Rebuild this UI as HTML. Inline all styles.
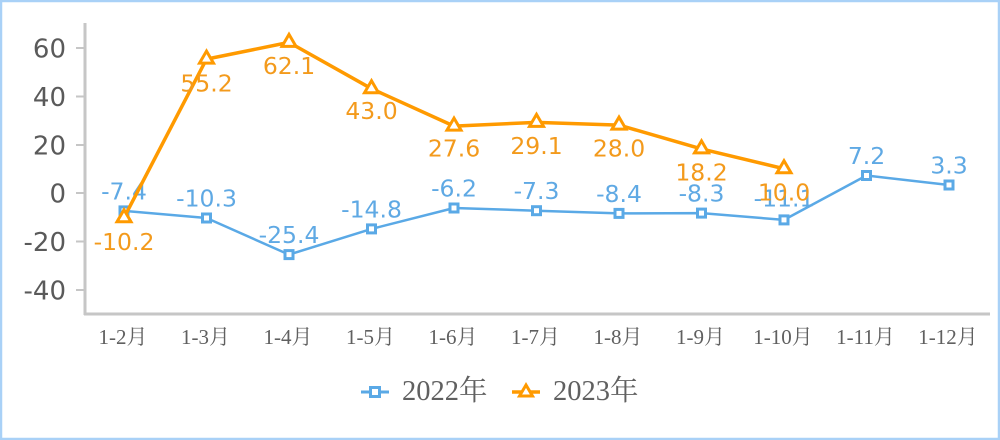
<!DOCTYPE html>
<html><head><meta charset="utf-8"><style>
html,body{margin:0;padding:0;background:#fff;}
svg{display:block;}
</style></head><body>
<svg width="1000" height="440" viewBox="0 0 1000 440" xmlns="http://www.w3.org/2000/svg">
<rect x="1" y="1" width="998" height="438" fill="#fff" stroke="#a9d1f7" stroke-width="2.5"/>
<!-- axes -->
<g stroke="#c6c6c6" stroke-width="3" fill="none">
<line x1="85" y1="23" x2="85" y2="315"/>
<line x1="84" y1="314" x2="990" y2="314"/>
<line x1="76" y1="48" x2="85" y2="48" stroke-width="2"/>
<line x1="76" y1="96.5" x2="85" y2="96.5" stroke-width="2"/>
<line x1="76" y1="145" x2="85" y2="145" stroke-width="2"/>
<line x1="76" y1="193" x2="85" y2="193" stroke-width="2"/>
<line x1="76" y1="241.5" x2="85" y2="241.5" stroke-width="2"/>
<line x1="76" y1="290" x2="85" y2="290" stroke-width="2"/>
</g>
<g font-family="DejaVu Sans, Verdana, sans-serif" font-size="26" fill="#5a5a5a" text-anchor="end">
<text x="66" y="57.5">60</text>
<text x="66" y="106">40</text>
<text x="66" y="154.5">20</text>
<text x="66" y="202.5">0</text>
<text x="66" y="251">-20</text>
<text x="66" y="299.5">-40</text>
</g>
<g font-family="Liberation Serif, Noto Serif CJK SC, serif" font-size="21" fill="#606060" text-anchor="middle">
<text x="123" y="344">1-2月</text>
<text x="205.5" y="344">1-3月</text>
<text x="288" y="344">1-4月</text>
<text x="370.5" y="344">1-5月</text>
<text x="453" y="344">1-6月</text>
<text x="535.5" y="344">1-7月</text>
<text x="618" y="344">1-8月</text>
<text x="700.5" y="344">1-9月</text>
<text x="783" y="344">1-10月</text>
<text x="865.5" y="344">1-11月</text>
<text x="948" y="344">1-12月</text>
</g>
<!-- 2022 series -->
<polyline fill="none" stroke="#5aa9e6" stroke-width="2.5" stroke-linejoin="round" points="124,210.9 206.5,218 289,254.6 371.5,228.9 454,208 536.5,210.7 619,213.4 701.5,213.1 784,219.9 866.5,175.5 949,185"/>
<g fill="#fff" stroke="#5aa9e6" stroke-width="3">
<rect x="120" y="206.9" width="8" height="8"/>
<rect x="202.5" y="214" width="8" height="8"/>
<rect x="285" y="250.6" width="8" height="8"/>
<rect x="367.5" y="224.9" width="8" height="8"/>
<rect x="450" y="204" width="8" height="8"/>
<rect x="532.5" y="206.7" width="8" height="8"/>
<rect x="615" y="209.4" width="8" height="8"/>
<rect x="697.5" y="209.1" width="8" height="8"/>
<rect x="780" y="215.9" width="8" height="8"/>
<rect x="862.5" y="171.5" width="8" height="8"/>
<rect x="945" y="181" width="8" height="8"/>
</g>
<g font-family="DejaVu Sans, Verdana, sans-serif" font-size="23.5" fill="#5fa9e4" text-anchor="middle">
<text x="124" y="199.5">-7.4</text>
<text x="206.5" y="206.5">-10.3</text>
<text x="289" y="243">-25.4</text>
<text x="371.5" y="217.4">-14.8</text>
<text x="454" y="196.5">-6.2</text>
<text x="536.5" y="199.2">-7.3</text>
<text x="619" y="201.9">-8.4</text>
<text x="701.5" y="201.6">-8.3</text>
<text x="784" y="206.5">-11.1</text>
<text x="866.5" y="164">7.2</text>
<text x="949" y="173.5">3.3</text>
</g>
<!-- 2023 series -->
<polyline fill="none" stroke="#ff9a00" stroke-width="3.5" stroke-linejoin="round" points="124,217.7 206.5,59.1 289,42.4 371.5,88.7 454,126.1 536.5,122.4 619,125.1 701.5,148.9 784,168.75"/>
<g fill="#fff" stroke="#ff9a00" stroke-width="3" stroke-linejoin="miter">
<polygon points="124,209.7 117,221.7 131,221.7"/>
<polygon points="206.5,51.1 199.5,63.1 213.5,63.1"/>
<polygon points="289,34.4 282,46.4 296,46.4"/>
<polygon points="371.5,80.7 364.5,92.7 378.5,92.7"/>
<polygon points="454,118.1 447,130.1 461,130.1"/>
<polygon points="536.5,114.4 529.5,126.4 543.5,126.4"/>
<polygon points="619,117.1 612,129.1 626,129.1"/>
<polygon points="701.5,140.9 694.5,152.9 708.5,152.9"/>
<polygon points="784,160.75 777,172.75 791,172.75"/>
</g>
<g font-family="DejaVu Sans, Verdana, sans-serif" font-size="23.5" fill="#f39a1c" text-anchor="middle">
<text x="124" y="250.2">-10.2</text>
<text x="206.5" y="91.5">55.2</text>
<text x="289" y="73.9">62.1</text>
<text x="371.5" y="119.2">43.0</text>
<text x="454" y="156.6">27.6</text>
<text x="536.5" y="153.9">29.1</text>
<text x="619" y="156.6">28.0</text>
<text x="701.5" y="180.4">18.2</text>
<text x="784" y="200.5">10.0</text>
</g>
<!-- legend -->
<g>
<line x1="361" y1="392" x2="389" y2="392" stroke="#5aa9e6" stroke-width="3"/>
<rect x="370.5" y="387.5" width="9" height="9" fill="#fff" stroke="#5aa9e6" stroke-width="3"/>
<line x1="512" y1="392" x2="540" y2="392" stroke="#ff9a00" stroke-width="3.5"/>
<polygon points="526,385 519.5,396 532.5,396" fill="#fff" stroke="#ff9a00" stroke-width="3"/>
</g>
<g font-family="Liberation Serif, Noto Serif CJK SC, serif" font-size="28.5" fill="#606060">
<text x="402" y="400">2022年</text>
<text x="553" y="400">2023年</text>
</g>
</svg>
</body></html>
